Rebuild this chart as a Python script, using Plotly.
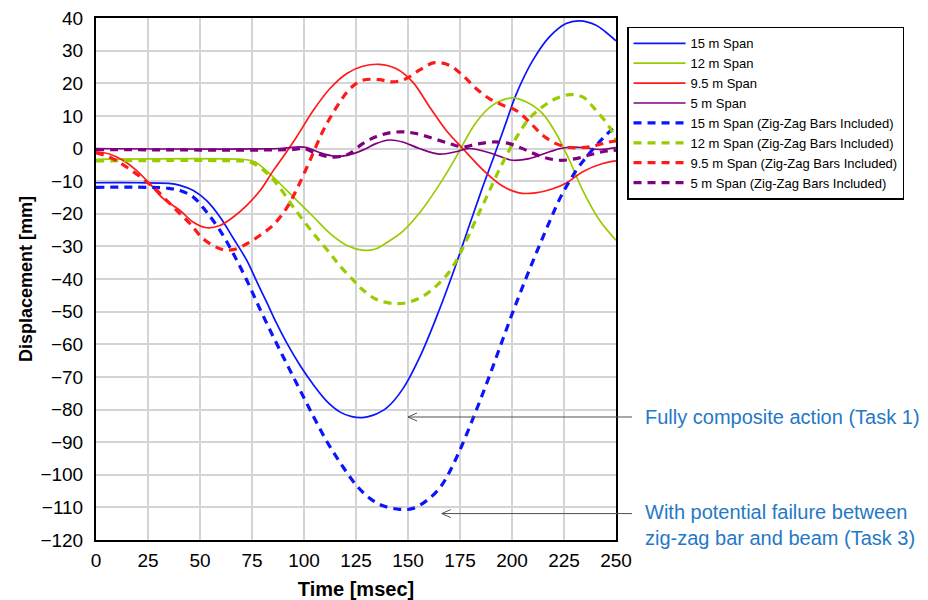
import plotly.graph_objects as go

# ---------------- data ----------------
t_15 = [0, 20, 35, 40.4, 46.8, 53.2, 59.6, 66, 72.5, 77.3, 82.1, 86.9, 91.7, 98.2, 104.6, 111,
        117.4, 123, 128, 133, 139.6, 147.6, 155.6, 163.5, 171.5, 179.5, 185.8, 191, 197, 202, 210,
        218, 226, 232.4, 240.4, 245, 250]
v_15 = [-10.5, -10.5, -10.7, -11.3, -12.9, -16, -21, -27.5, -34.3, -40.8, -47.2, -53.7, -59.6,
        -66.6, -72.5, -77.5, -80.8, -82.2, -82.5, -81.8, -79.6, -73.6, -64, -52, -38.4, -23.5,
        -12, -3, 7.7, 16.6, 27, 34.2, 38.3, 39.1, 37.8, 35.7, 33]

t_15z = [0, 25, 35, 40.4, 46.8, 53.2, 59.6, 66, 72.5, 78.9, 85.3, 91.7, 98.2, 104.6, 111, 117.4,
         125.4, 132, 138, 146, 152.4, 158.8, 165.1, 169.9, 174.7, 179.5, 184.2, 189, 193.8, 198.6,
         203.5, 208.3, 213, 218, 223.6, 230.8, 235, 240.4, 245.2, 250]
v_15z = [-11.9, -11.9, -12.2, -12.9, -14.9, -19.5, -25.1, -32.2, -40.4, -49.3, -57.8, -66,
         -74.2, -82.2, -89.8, -96.3, -103.4, -107.4, -109.5, -110.6, -110.3, -108, -104.2,
         -99.2, -92.8, -85.5, -78, -70, -61.6, -53.2, -45, -37.3, -30, -22.5, -14.6, -6.8, -3.2,
         0.9, 4.1, 7]

t_12 = [0, 70, 74, 77, 80.5, 84, 88.5, 96.5, 104.6, 112.6, 120.6, 128.7, 134, 139.6, 147.6,
        155.6, 163.5, 171.5, 175, 182.7, 190.7, 200.3, 206.7, 214.7, 221.2, 227.6, 234, 242, 250]
v_12 = [-3.3, -3.3, -3.6, -4.3, -6, -8, -10.8, -15.9, -21, -26.1, -29.7, -31.2, -30.9, -28.9,
        -25.3, -19.7, -12.6, -4.4, -0.4, 8, 13.3, 15.5, 14.3, 10.7, 4.6, -3.6, -12.8, -21.9, -28.1]

t_12z = [0, 68, 74, 80.4, 86.9, 94.9, 104.6, 112.6, 117, 123.8, 128.2, 134.9, 142.8, 149.2,
         157.2, 163.5, 169.9, 174.7, 179.5, 184.2, 189, 193.8, 198.6, 203, 208.3, 214.7, 221.2,
         227.6, 234, 240.4, 246.8, 250]
v_12z = [-3.8, -3.8, -4.1, -6.6, -10.8, -18, -26.1, -32.2, -35.8, -40.4, -43.3, -46.3, -47.5,
         -47.3, -45.3, -42.2, -37.8, -32.6, -26.2, -19.7, -13.2, -6.6, -0.6, 4.3, 9.2, 12.8,
         15.3, 16.5, 15.8, 11.7, 6.6, 2.6]

t_95 = [0, 6.4, 12.9, 19.3, 25.7, 32.2, 40.4, 46.8, 53.2, 59.6, 66, 72.5, 78.9, 85.3, 91, 96.5,
        104.5, 112.5, 120.6, 128.2, 136.2, 144.2, 152.2, 160.3, 168.3, 176.3, 187.4, 195.4,
        203.3, 211.3, 219.3, 226.4, 234, 243.6, 250]
v_95 = [-1.0, -1.7, -3.6, -6.6, -10.7, -15.3, -19, -22.6, -24.3, -23.6, -21, -17.4, -12.9, -6.7,
        -1.6, 3.6, 11.7, 18.4, 23, 25.2, 25.8, 24.5, 20.4, 12.8, 5.6, 0, -7.4, -11.5, -13.6,
        -13.6, -12.4, -10.5, -7.1, -4.6, -3.8]

t_95z = [0, 6.4, 14.5, 27.3, 33.8, 40.2, 45.2, 51.6, 59.6, 66, 72.5, 78.9, 85.3, 91.7, 96.5,
         102.9, 109.3, 115.8, 122.2, 128.2, 136.2, 142.6, 149, 155.4, 162.7, 169.9, 176.3, 182.7,
         189.1, 195.5, 201.9, 208.3, 214.7, 221.2, 227.6, 237.2, 246.8, 250]
v_95z = [-1.3, -2.6, -5.6, -11.7, -15.8, -19.9, -23, -27.7, -30.7, -31, -29.2, -26.6, -23.4,
         -18.2, -12.5, -3.6, 5.6, 12.8, 18.4, 20.9, 21.1, 20.4, 21.4, 24, 26.3, 25.5, 22.4, 18.4,
         15.3, 13.3, 11.7, 8.2, 4.1, 1.5, 0.3, 0.5, 2, 2.3]

t_5 = [0, 88, 93.2, 97.3, 101.3, 107.7, 114.1, 120.6, 128.2, 134.6, 141, 147.4, 155.4, 165, 173,
       179.5, 189.1, 200.3, 208.3, 218, 226, 234, 242, 250]
v_5 = [0, 0, 0.3, 0.5, 0.3, -1.3, -2.3, -2.1, -0.5, 1.5, 2.6, 2, 0, -1.7, -1.0, 0, -1.3, -3.6,
       -3.1, -1.0, 0.3, 0.3, -0.3, 0.3]

t_5z = [0, 95, 99.7, 106, 112.5, 119, 122, 128.2, 134.6, 141, 147.4, 153.8, 161.9, 169.9, 176.3,
        182.7, 190.7, 198.7, 206.7, 214.7, 222.8, 230.8, 237.2, 243.6, 250]
v_5z = [-0.3, -0.3, 0, -1.5, -2.6, -2.3, -1.5, 1.5, 3.6, 4.8, 5.1, 4.6, 3.1, 1.5, 0.5, 1.3, 2,
        1.5, -0.5, -2.6, -3.6, -3.1, -2, -1, -0.5]

names = ["15 m Span", "12 m Span", "9.5 m Span", "5 m Span",
         "15 m Span (Zig-Zag Bars Included)", "12 m Span (Zig-Zag Bars Included)",
         "9.5 m Span (Zig-Zag Bars Included)", "5 m Span (Zig-Zag Bars Included)"]
colors = ["#0A14FF", "#99CC00", "#FF1A1A", "#800080"]

x_ticks = [0, 25, 50, 75, 100, 125, 150, 175, 200, 225, 250]
y_ticks = list(range(-120, 41, 10))

note1 = "Fully composite action (Task 1)"
note2 = "With potential failure between<br>zig-zag bar and beam (Task 3)"

# ---------------- figure ----------------
FONT = "Arial, Liberation Sans, sans-serif"
fig = go.Figure()

solid = [(t_15, v_15), (t_12, v_12), (t_95, v_95), (t_5, v_5)]
dashed = [(t_15z, v_15z), (t_12z, v_12z), (t_95z, v_95z), (t_5z, v_5z)]

for i, (t, v) in enumerate(solid):
    fig.add_trace(go.Scatter(x=t, y=v, mode="lines", name=names[i],
                             line=dict(color=colors[i], width=1.7, shape="spline", smoothing=1)))
for i, (t, v) in enumerate(dashed):
    fig.add_trace(go.Scatter(x=t, y=v, mode="lines", name=names[i + 4],
                             line=dict(color=colors[i], width=3.2, dash="8px,6px",
                                       shape="spline", smoothing=1)))

# arrows (open chevron head + line)
arrow_col = "#505050"
for xh, yh in [(0.600, -82.3), (0.665, -111.9)]:
    fig.add_shape(type="line", xref="paper", yref="y", x0=xh, x1=1.0308, y0=yh, y1=yh,
                  line=dict(color=arrow_col, width=1))
    dx = 9 / 520
    dy = 4 / 3.2625
    fig.add_shape(type="path", xref="paper", yref="y",
                  path=f"M {xh+dx},{yh+dy} L {xh},{yh} L {xh+dx},{yh-dy}",
                  line=dict(color=arrow_col, width=1))

fig.add_annotation(text=note1, xref="paper", yref="paper", x=1.052, y=0.2356,
                   xanchor="left", yanchor="middle", showarrow=False, align="left",
                   font=dict(family=FONT, size=20, color="#2479C6"))
fig.add_annotation(text=note2, xref="paper", yref="paper", x=1.052, y=0.0278,
                   xanchor="left", yanchor="middle", showarrow=False, align="left",
                   font=dict(family=FONT, size=20, color="#2479C6"))

fig.update_layout(
    width=928, height=600, autosize=False,
    margin=dict(l=96, r=312, t=18, b=60),
    paper_bgcolor="white", plot_bgcolor="white",
    font=dict(family=FONT, color="black"),
    showlegend=True,
    legend=dict(x=1.0212, y=0.983, xanchor="left", yanchor="top",
                bgcolor="white", bordercolor="black", borderwidth=1.5,
                font=dict(family=FONT, size=13, color="black"),
                itemwidth=52, tracegroupgap=0),
    xaxis=dict(range=[0, 250], tickvals=x_ticks, ticktext=[str(v) for v in x_ticks],
               showgrid=True, gridcolor="#D4D4D4", gridwidth=2, zeroline=False,
               showline=True, linecolor="black", linewidth=2, mirror=True,
               ticks="", ticklabelstandoff=2,
               tickfont=dict(family=FONT, size=19, color="black"),
               title=dict(text="<b>Time [msec]</b>", standoff=12,
                          font=dict(family=FONT, size=20, color="black")),
               automargin=False),
    yaxis=dict(range=[-120, 40], tickvals=y_ticks,
               showgrid=True, gridcolor="#D4D4D4", gridwidth=2, zeroline=False,
               showline=True, linecolor="black", linewidth=2, mirror=True,
               ticks="", ticklabelstandoff=7,
               tickfont=dict(family=FONT, size=19, color="black"),
               title=dict(text="<b>Displacement [mm]</b>", standoff=3,
                          font=dict(family=FONT, size=18, color="black")),
               automargin=False),
)

fig.write_html("out.html")
